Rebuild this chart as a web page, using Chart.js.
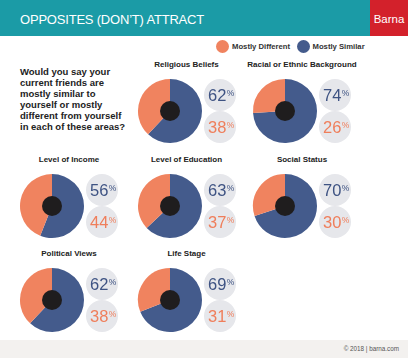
<!DOCTYPE html>
<html><head><meta charset="utf-8">
<script src="https://cdn.jsdelivr.net/npm/chart.js@4"></script>
<style>
body{margin:0;width:408px;height:358px;position:relative;overflow:hidden;background:#fff;font-family:"Liberation Sans",Arial,sans-serif;}
.abs{position:absolute;white-space:nowrap;}
#hdr{left:0;top:0;width:370px;height:36px;background:#1b9ba6;}
#hdrT{left:20px;top:2px;line-height:36px;font-size:13px;letter-spacing:-0.2px;color:#fff;}
#brand{left:370px;top:0;width:38px;height:36px;background:#d3212b;}
#brandT{left:370px;width:38px;top:1px;line-height:36px;font-size:11.5px;color:#fff;text-align:center;}
.lgdot{width:13px;height:13px;border-radius:50%;top:40px;}
.lgt{font-size:7.7px;font-weight:bold;color:#333;line-height:12px;top:41px;}
#q{left:20px;top:66px;font-size:9.5px;line-height:11px;font-weight:bold;color:#222;}
.ttl{font-size:8px;font-weight:bold;color:#222;line-height:10px;width:140px;text-align:center;}
#foot{left:0;top:340px;width:408px;height:18px;background:#f3f1ef;}
#footT{right:9px;top:340px;line-height:18px;font-size:6.3px;color:#555;}
</style></head>
<body>
<div class="abs" id="hdr"></div>
<div class="abs" id="hdrT">OPPOSITES (DON’T) ATTRACT</div>
<div class="abs" id="brand"></div>
<div class="abs" id="brandT">Barna</div>
<div class="abs lgdot" style="left:215.5px;background:#f0835f"></div>
<div class="abs lgt" style="left:232px">Mostly Different</div>
<div class="abs lgdot" style="left:296.5px;background:#445b8c"></div>
<div class="abs lgt" style="left:312.5px">Mostly Similar</div>
<div class="abs" id="q">Would you say your<br>current friends are<br>mostly similar to<br>yourself or mostly<br>different from yourself<br>in each of these areas?</div>
<div class="abs" id="foot"></div>
<div class="abs" id="footT">© 2018 | barna.com</div>
<script>
// ---- data ----
const categories = ["Religious Beliefs","Racial or Ethnic Background","Level of Income","Level of Education","Social Status","Political Views","Life Stage"];
const seriesLabels = ["Mostly Similar","Mostly Different"];
const mostlySimilar = [62,74,56,63,70,62,69];
const mostlyDifferent = [38,26,44,37,30,38,31];

// ---- layout (positions, not data) ----
const colX = [52,169.5,285];
const rowY = [111,206,300];
const cells = [[1,0],[2,0],[0,1],[1,1],[2,1],[0,2],[1,2]];
const BLUE = "#445b8c", ORANGE = "#f0835f";
const BLUE_T = "#3e5383", ORANGE_T = "#ef7e5b";

const decor = {
  id:'decor',
  afterDatasetsDraw(chart){
    const arc = chart.getDatasetMeta(0).data[0];
    const ctx = chart.ctx, x = arc.x, y = arc.y;
    ctx.save();
    ctx.fillStyle = "#1f1d1e";
    ctx.beginPath(); ctx.arc(x,y,10,0,Math.PI*2); ctx.fill();
    const vals = chart.data.datasets[0].data;
    const cols = [BLUE_T, ORANGE_T];
    [-16,16].forEach((dy,i)=>{
      const cx = x+50, cy = y+dy;
      ctx.fillStyle = "#e6e7eb";
      ctx.beginPath(); ctx.arc(cx,cy,16,0,Math.PI*2); ctx.fill();
      const num = String(vals[i]);
      ctx.font = '16.5px "Liberation Sans", Arial, sans-serif';
      const w1 = ctx.measureText(num).width;
      ctx.font = '8.5px "Liberation Sans", Arial, sans-serif';
      const w2 = ctx.measureText('%').width;
      const left = cx + 1 - (w1+w2)/2;
      const base = cy + 0.358*16.5 + 0.3;
      ctx.fillStyle = cols[i];
      ctx.textBaseline = 'alphabetic'; ctx.textAlign = 'left';
      ctx.font = '16.5px "Liberation Sans", Arial, sans-serif';
      ctx.fillText(num, left, base);
      ctx.font = '8.5px "Liberation Sans", Arial, sans-serif';
      ctx.fillText('%', left+w1+0.3, base - 0.716*16.5 + 0.73*8.5);
    });
    ctx.restore();
  }
};

categories.forEach((cat,i)=>{
  const cx = colX[cells[i][0]], cy = rowY[cells[i][1]];
  const t = document.createElement('div');
  t.className = 'abs ttl';
  t.style.left = (cx+17-70)+'px';
  t.style.top = (cy-46-5)+'px';
  t.textContent = cat;
  document.body.appendChild(t);
  const c = document.createElement('canvas');
  c.width = 102; c.height = 68;
  c.className = 'abs';
  c.style.left = (cx-34)+'px';
  c.style.top = (cy-34)+'px';
  document.body.appendChild(c);
  new Chart(c, {
    type:'pie',
    data:{labels:seriesLabels, datasets:[{data:[mostlySimilar[i], mostlyDifferent[i]], backgroundColor:[BLUE, ORANGE], borderWidth:0}]},
    options:{
      responsive:false, animation:false, devicePixelRatio:1,
      layout:{padding:{left:2,top:2,bottom:2,right:36}},
      plugins:{legend:{display:false}, tooltip:{enabled:false}}
    },
    plugins:[decor]
  });
});
</script>
</body></html>
